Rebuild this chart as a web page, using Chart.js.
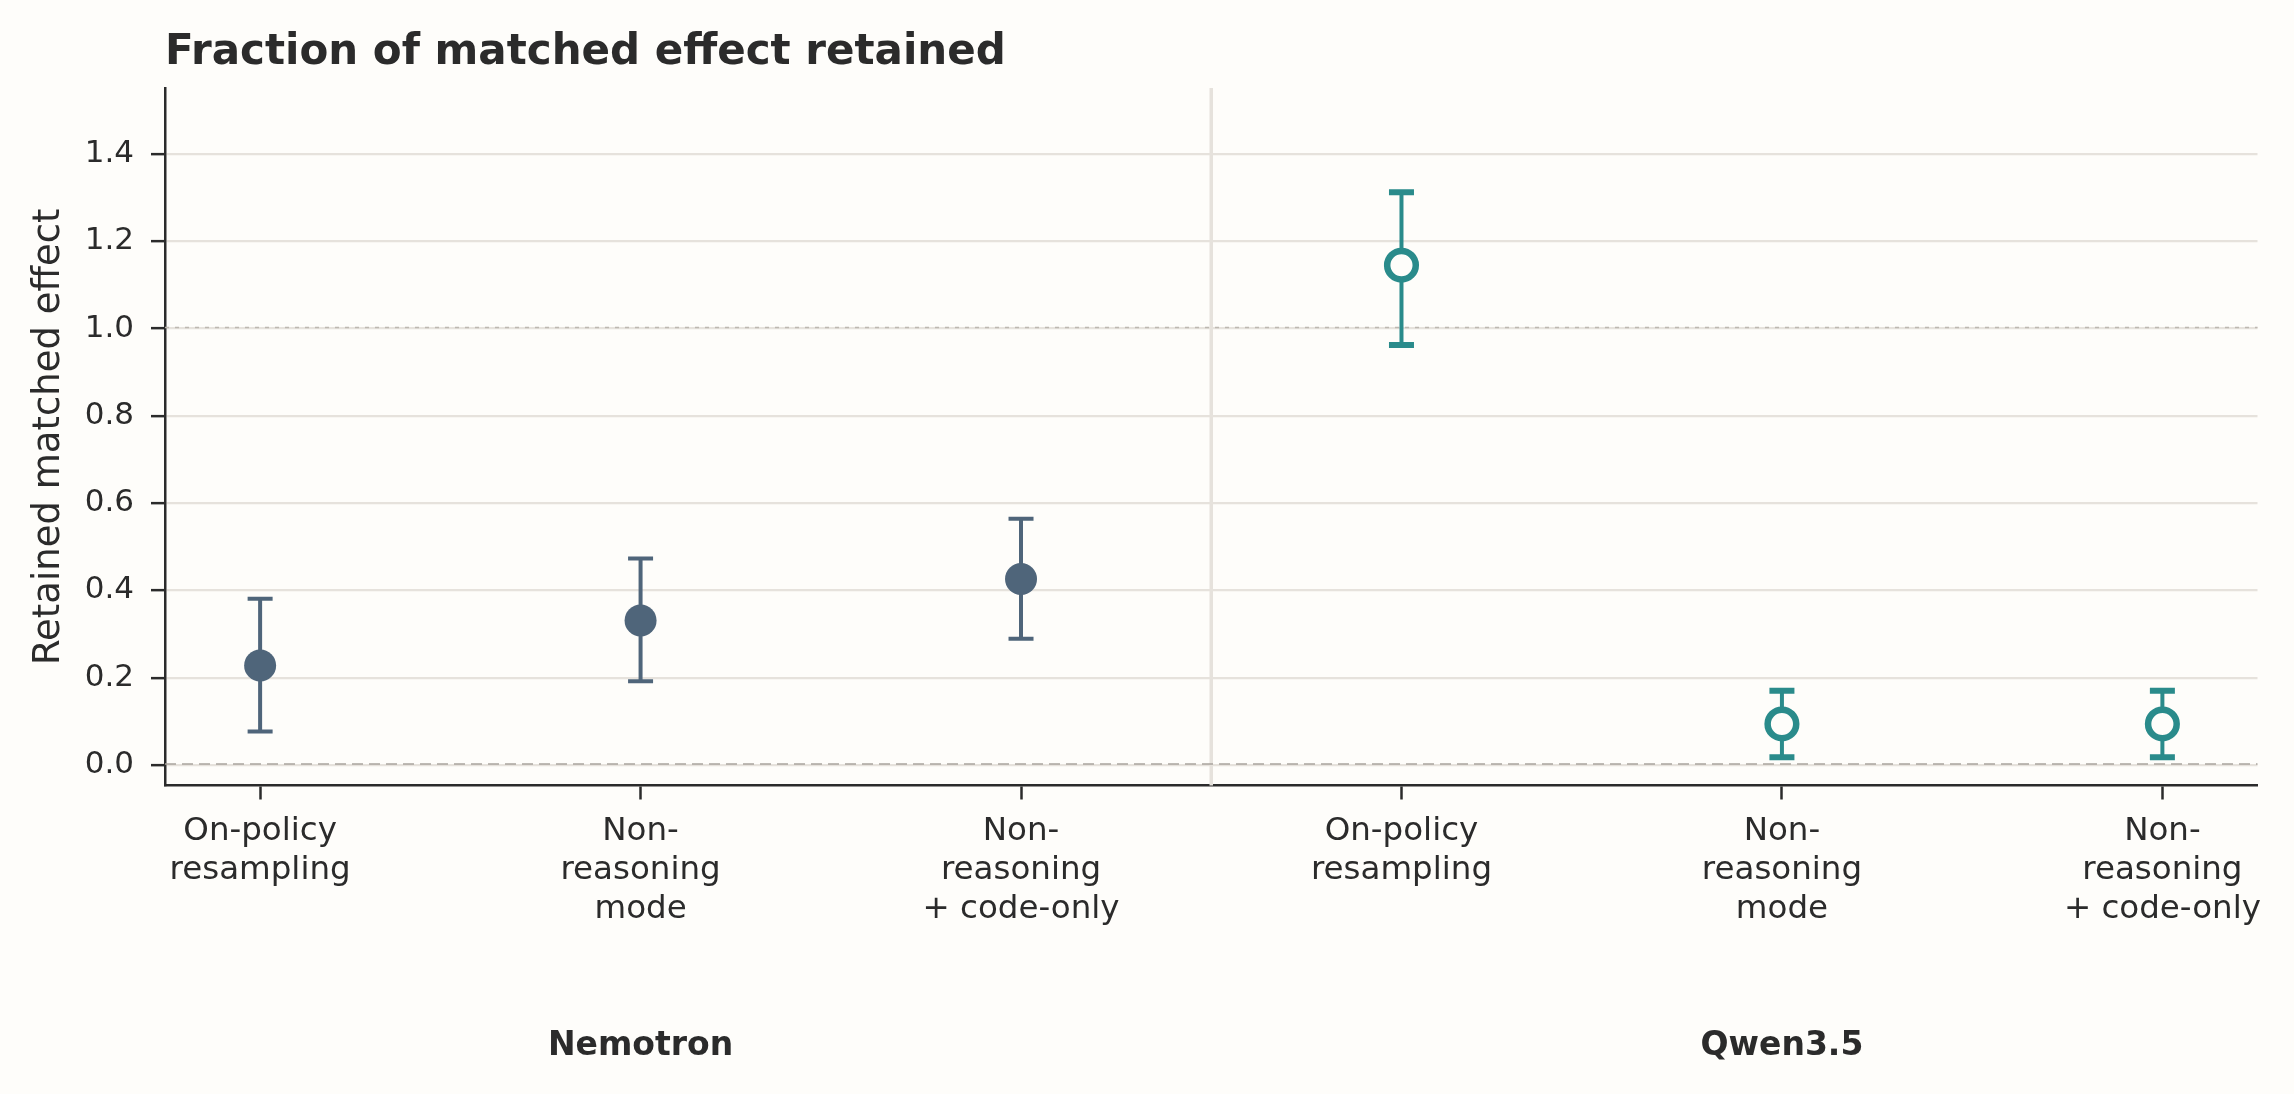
<!DOCTYPE html>
<html>
<head>
<meta charset="utf-8">
<script src="https://cdn.jsdelivr.net/npm/chart.js@4.4.1/dist/chart.umd.min.js"></script>
<style>
  html, body { margin: 0; padding: 0; background: #fefdfa; }
  #wrap { width: 2294px; height: 1094px; }
</style>
</head>
<body>
<div id="wrap"><canvas id="chart" width="2294" height="1094"></canvas></div>
<script>
// x categories (one per point), split into lines as in the picture
const categories = [
  ["On-policy", "resampling"],
  ["Non-", "reasoning", "mode"],
  ["Non-", "reasoning", "+ code-only"],
  ["On-policy", "resampling"],
  ["Non-", "reasoning", "mode"],
  ["Non-", "reasoning", "+ code-only"],
];
const groups = ["Nemotron", "Qwen3.5"];
const groupCenters = [1, 4];

const nemotronX = [0, 1, 2];
const nemotronMean = [0.228, 0.331, 0.426];
const nemotronLow = [0.077, 0.192, 0.289];
const nemotronHigh = [0.381, 0.473, 0.564];

const qwenX = [3, 4, 5];
const qwenMean = [1.145, 0.094, 0.094];
const qwenLow = [0.962, 0.018, 0.018];
const qwenHigh = [1.312, 0.170, 0.170];

const yTicks = [0, 0.2, 0.4, 0.6, 0.8, 1.0, 1.2, 1.4];

const bg = "#fefdfa";
const ink = "#2b2b2b";
const slate = "#4f657a";
const teal = "#2a8b8b";
const font = "'DejaVu Sans', sans-serif";

const background = {
  id: "background",
  beforeDraw(chart) {
    const c = chart.ctx;
    c.save();
    c.fillStyle = bg;
    c.fillRect(0, 0, chart.width, chart.height);
    c.restore();
  },
};

// reference lines at 0 and 1, plus divider between the two models
const refLines = {
  id: "refLines",
  beforeDatasetsDraw(chart) {
    const { ctx: c, chartArea: a, scales: { x, y } } = chart;
    c.save();
    const xd = x.getPixelForValue(2.5);
    c.strokeStyle = "#e6e2dc";
    c.lineWidth = 3.5;
    c.beginPath();
    c.moveTo(xd, a.top);
    c.lineTo(xd, a.bottom);
    c.stroke();

    c.strokeStyle = "#a9a49d";
    c.lineWidth = 1.5;
    c.setLineDash([11, 6]);
    const y0 = y.getPixelForValue(0) - 1;
    c.beginPath();
    c.moveTo(a.left, y0);
    c.lineTo(a.right, y0);
    c.stroke();

    c.strokeStyle = "#bdb8b1";
    c.lineWidth = 1.3;
    c.setLineDash([4, 6]);
    const y1 = y.getPixelForValue(1) - 1;
    c.beginPath();
    c.moveTo(a.left, y1);
    c.lineTo(a.right, y1);
    c.stroke();
    c.restore();
  },
};

const errorBars = {
  id: "errorBars",
  beforeDatasetsDraw(chart) {
    const { ctx: c, scales: { y } } = chart;
    chart.data.datasets.forEach((ds, i) => {
      const meta = chart.getDatasetMeta(i);
      c.save();
      c.strokeStyle = ds.borderColor;
      meta.data.forEach((pt, j) => {
        const top = y.getPixelForValue(ds.high[j]);
        const bot = y.getPixelForValue(ds.low[j]);
        c.lineWidth = ds.barWidth;
        c.beginPath();
        c.moveTo(pt.x, top);
        c.lineTo(pt.x, bot);
        c.stroke();
        c.lineWidth = ds.capWidth;
        c.beginPath();
        c.moveTo(pt.x - 12.5, top);
        c.lineTo(pt.x + 12.5, top);
        c.moveTo(pt.x - 12.5, bot);
        c.lineTo(pt.x + 12.5, bot);
        c.stroke();
      });
      c.restore();
    });
  },
};

const labels = {
  id: "labels",
  afterDraw(chart) {
    const { ctx: c, scales: { x } } = chart;
    c.save();
    c.fillStyle = ink;
    c.font = "bold 42px " + font;
    c.textAlign = "left";
    c.textBaseline = "alphabetic";
    c.fillText("Fraction of matched effect retained", 165, 64);
    c.font = "bold 33px " + font;
    c.textAlign = "center";
    c.textBaseline = "middle";
    groups.forEach((g, i) => {
      c.fillText(g, x.getPixelForValue(groupCenters[i]), 1046);
    });
    c.restore();
  },
};

new Chart(document.getElementById("chart"), {
  type: "scatter",
  data: {
    datasets: [
      {
        label: "Nemotron",
        data: nemotronX.map((v, i) => ({ x: v, y: nemotronMean[i] })),
        low: nemotronLow,
        high: nemotronHigh,
        pointRadius: 16,
        pointBackgroundColor: slate,
        pointBorderWidth: 0,
        borderColor: slate,
        barWidth: 4,
        capWidth: 4,
      },
      {
        label: "Qwen3.5",
        data: qwenX.map((v, i) => ({ x: v, y: qwenMean[i] })),
        low: qwenLow,
        high: qwenHigh,
        pointRadius: 14.3,
        pointBackgroundColor: bg,
        pointBorderColor: teal,
        pointBorderWidth: 6.5,
        borderColor: teal,
        barWidth: 4,
        capWidth: 6,
      },
    ],
  },
  options: {
    responsive: false,
    devicePixelRatio: 1,
    animation: false,
    layout: { padding: { top: 88, right: 36.5, left: 0, bottom: 0 } },
    plugins: {
      legend: { display: false },
      tooltip: { enabled: false },
      title: { display: false },
    },
    scales: {
      x: {
        type: "linear",
        min: -0.25,
        max: 5.25,
        afterBuildTicks: (s) => {
          s.ticks = categories.map((_, i) => ({ value: i }));
        },
        afterFit: (s) => {
          s.height = 308.5;
        },
        grid: {
          drawOnChartArea: false,
          drawTicks: true,
          tickLength: 14,
          tickColor: ink,
          tickWidth: 2.5,
        },
        border: { color: ink, width: 2.5 },
        ticks: {
          autoSkip: false,
          maxRotation: 0,
          padding: 13,
          color: ink,
          font: { family: font, size: 32.5 },
          callback: (v, i) => categories[i],
        },
      },
      y: {
        min: -0.047,
        max: 1.551,
        afterBuildTicks: (s) => {
          s.ticks = yTicks.map((v) => ({ value: v }));
        },
        afterFit: (s) => {
          s.width = 165;
        },
        grid: {
          color: "#e6e2dc",
          lineWidth: 2.3,
          tickLength: 14,
          tickColor: ink,
          tickWidth: 2.5,
        },
        border: { color: ink, width: 2.5 },
        ticks: {
          padding: 17,
          color: ink,
          font: { family: font, size: 31 },
          callback: (v) => v.toFixed(1),
        },
        title: {
          display: true,
          text: "Retained matched effect",
          color: ink,
          font: { family: font, size: 37 },
          padding: { top: 27, bottom: 0 },
        },
      },
    },
  },
  plugins: [background, refLines, errorBars, labels],
});
</script>
</body>
</html>
